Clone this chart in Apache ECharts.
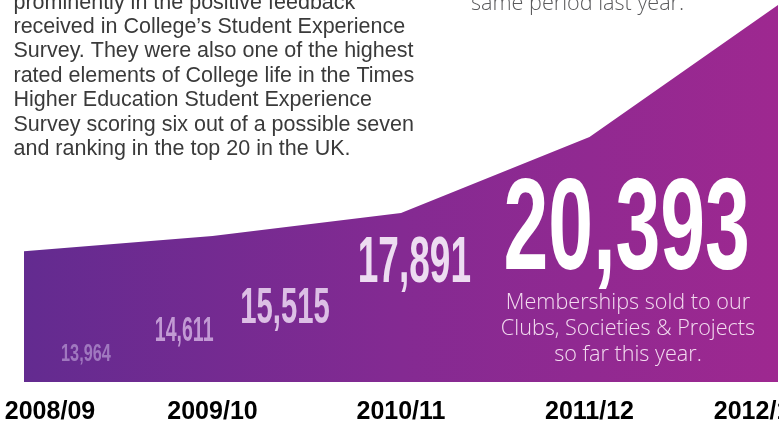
<!DOCTYPE html>
<html>
<head>
<meta charset="utf-8">
<script src="https://cdn.jsdelivr.net/npm/echarts@6.0.0/dist/echarts.min.js"></script>
<style>
  html, body { margin: 0; padding: 0; background: #fff; }
  #chart { width: 779px; height: 430px; }
</style>
</head>
<body>
<div id="chart"></div>
<script>
// data
var years = ["2008/09", "2009/10", "2010/11", "2011/12", "2012/13"];
var members = [13964, 14611, 15515, 17891, 20393];
// relative height of the purple area at each year (last one = 100)
var areaLevel = [34.7, 38.7, 44.8, 65.0, 100];

var introText = [
  "prominently in the positive feedback",
  "received in College\u2019s Student Experience",
  "Survey. They were also one of the highest",
  "rated elements of College life in the Times",
  "Higher Education Student Experience",
  "Survey scoring six out of a possible seven",
  "and ranking in the top 20 in the UK."
];
var topRightText = "same period last year.";
var noteText = ["Memberships sold to our", "Clubs, Societies & Projects", "so far this year."];

// where each big number sits: [left, top of digits, ink width, digit height]
var numBox = [
  [62, 344, 49, 17],
  [156, 316, 57, 25],
  [242, 288, 87, 36],
  [360, 237, 110, 46],
  [506, 178, 241, 92]
];
var numColor = ["#a078bf", "#c29ad4", "#dcbfe5", "#eddcf1", "#ffffff"];
var numFont = 'bold 100px "Liberation Sans Narrow", "Liberation Sans", Arial, sans-serif';

var ctx = document.createElement("canvas").getContext("2d");
function fitText(str, box) {
  ctx.font = numFont;
  ctx.textAlign = "left";
  ctx.textBaseline = "middle";
  var m = ctx.measureText(str);
  var d = ctx.measureText("0123456789");
  var sx = box[2] / (m.actualBoundingBoxLeft + m.actualBoundingBoxRight);
  var sy = box[3] / (d.actualBoundingBoxAscent + d.actualBoundingBoxDescent);
  return {
    x: box[0] + m.actualBoundingBoxLeft * sx,
    y: box[1] + d.actualBoundingBoxAscent * sy,
    scaleX: sx,
    scaleY: sy
  };
}

var graphics = [];
members.forEach(function (v, i) {
  var str = v.toLocaleString("en-US");
  var f = fitText(str, numBox[i]);
  graphics.push({
    type: "text",
    x: f.x,
    y: f.y,
    scaleX: f.scaleX,
    scaleY: f.scaleY,
    z: 100,
    silent: true,
    style: {
      text: str,
      x: 0,
      y: 0,
      font: numFont,
      fill: numColor[i],
      align: "left",
      verticalAlign: "middle"
    }
  });
});

graphics.push({
  type: "text",
  x: 13.5,
  y: -9.6,
  z: 100,
  silent: true,
  style: {
    text: introText.join("\n"),
    font: '21.5px "Liberation Sans", Arial, sans-serif',
    lineHeight: 24.4,
    fill: "#3a3a3a",
    align: "left",
    verticalAlign: "top"
  }
});

graphics.push({
  type: "text",
  x: 471,
  y: 3.5,
  z: 100,
  silent: true,
  style: {
    text: topRightText,
    font: '300 21.6px "Open Sans", sans-serif',
    fill: "#5a5a5c",
    align: "left",
    verticalAlign: "middle"
  }
});

graphics.push({
  type: "text",
  x: 628,
  y: 329,
  z: 100,
  silent: true,
  style: {
    text: noteText.join("\n"),
    font: '300 21.6px "Open Sans", sans-serif',
    lineHeight: 25.8,
    fill: "#f3dcf0",
    align: "center",
    verticalAlign: "middle"
  }
});

var labelFont = {
  fontFamily: '"Liberation Sans", Arial, sans-serif',
  fontWeight: "bold",
  fontSize: 25,
  color: "#000"
};

var myChart = echarts.init(document.getElementById("chart"));
myChart.setOption({
  animation: false,
  grid: { left: 24, right: 1, top: 5, bottom: 48, containLabel: false, outerBoundsMode: "none" },
  xAxis: {
    type: "category",
    data: years,
    boundaryGap: false,
    axisLine: { show: false },
    axisTick: { show: false },
    splitLine: { show: false },
    axisLabel: {
      interval: 0,
      margin: 18,
      hideOverlap: false,
      fontFamily: labelFont.fontFamily,
      fontWeight: labelFont.fontWeight,
      fontSize: labelFont.fontSize,
      color: labelFont.color,
      formatter: function (value, index) {
        if (index === 0) return "{first|" + value + "}";
        if (index === years.length - 1) return "{last|" + value + "}";
        return "{mid|" + value + "}";
      },
      rich: {
        first: Object.assign({ padding: [0, 0, 0, 52] }, labelFont),
        mid: Object.assign({}, labelFont),
        last: Object.assign({ padding: [0, 38, 0, 0] }, labelFont)
      }
    }
  },
  yAxis: { type: "value", min: 0, max: 100, show: false },
  series: [
    {
      type: "line",
      data: areaLevel,
      symbol: "none",
      silent: true,
      lineStyle: { width: 0 },
      areaStyle: {
        opacity: 1,
        color: new echarts.graphic.LinearGradient(0, 0, 1, 0, [
          { offset: 0, color: "#632b90" },
          { offset: 0.5, color: "#842a92" },
          { offset: 1, color: "#9e2890" }
        ])
      }
    }
  ],
  graphic: graphics
});
</script>
</body>
</html>
